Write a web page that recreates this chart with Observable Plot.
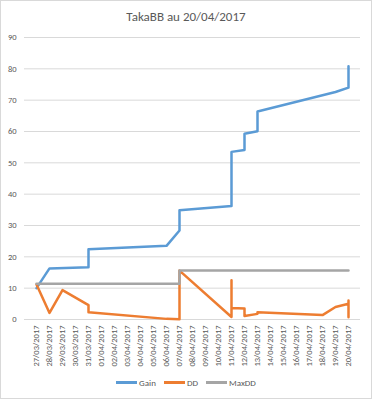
<!DOCTYPE html>
<html>
<head>
<meta charset="utf-8">
<script src="https://cdn.jsdelivr.net/npm/d3@7"></script>
<script src="https://cdn.jsdelivr.net/npm/@observablehq/plot@0.6"></script>
<style>
  html, body { margin: 0; padding: 0; background: #fff; }
  #chart { position: relative; width: 372px; height: 399px; box-sizing: border-box; border: 1px solid #d9d9d9; background: #fff; font-family: "Carlito", "Liberation Sans", sans-serif; color: #595959; overflow: hidden; }
  #title { position: absolute; left: 0; top: 6px; width: 370px; text-align: center; font-size: 13px; line-height: 20px; color: #595959; }
  #plot { position: absolute; left: 0; top: 27px; }
  #legend { position: absolute; left: 0; top: 374px; width: 370px; height: 14px; display: flex; justify-content: center; align-items: center; font-size: 9px; color: #595959; }
  .item { display: flex; align-items: center; margin: 0 4px; }
  .sw { width: 21px; height: 3px; margin-right: 2px; }
</style>
</head>
<body>
<div id="chart">
  <div id="title">TakaBB au 20/04/2017</div>
  <div id="plot"></div>
  <div id="legend"></div>
</div>
<script>
const dates = ["27/03/2017","28/03/2017","29/03/2017","30/03/2017","31/03/2017","01/04/2017","02/04/2017","03/04/2017","04/04/2017","05/04/2017","06/04/2017","07/04/2017","08/04/2017","09/04/2017","10/04/2017","11/04/2017","12/04/2017","13/04/2017","14/04/2017","15/04/2017","16/04/2017","17/04/2017","18/04/2017","19/04/2017","20/04/2017"];
const yTicks = [0,10,20,30,40,50,60,70,80,90];
const seriesNames = ["Gain","DD","MaxDD"];
const seriesColors = ["#5B9BD5","#ED7D31","#A5A5A5"];

const gainDates = ["27/03/2017","28/03/2017","31/03/2017","31/03/2017","06/04/2017","07/04/2017","07/04/2017","11/04/2017","11/04/2017","12/04/2017","12/04/2017","13/04/2017","13/04/2017","19/04/2017","20/04/2017","20/04/2017"];
const gainValues = [10.0,16.3,16.7,22.4,23.5,28.4,34.9,36.2,53.5,54.1,59.3,60.1,66.4,72.6,74.0,80.8];

const ddDates = ["27/03/2017","28/03/2017","29/03/2017","31/03/2017","31/03/2017","06/04/2017","07/04/2017","07/04/2017","11/04/2017","11/04/2017","11/04/2017","12/04/2017","12/04/2017","13/04/2017","13/04/2017","18/04/2017","19/04/2017","20/04/2017","20/04/2017","20/04/2017"];
const ddValues = [11.2,2.1,9.4,4.6,2.3,0.2,0.1,15.6,0.8,12.5,3.7,3.5,1.1,1.8,2.3,1.4,4.0,5.0,6.1,0.7];

const maxDates = ["27/03/2017","07/04/2017","07/04/2017","20/04/2017"];
const maxValues = [11.4,11.4,15.6,15.6];

const mk = (ds, vs) => ds.map((d, i) => ({date: d, value: vs[i]}));
const gain = mk(gainDates, gainValues);
const dd = mk(ddDates, ddValues);
const maxdd = mk(maxDates, maxValues);

const plot = Plot.plot({
  width: 370,
  height: 351,
  marginLeft: 23,
  marginRight: 11,
  marginTop: 9,
  marginBottom: 60,
  style: {fontFamily: "Carlito, 'Liberation Sans', sans-serif", fontSize: "8.5px", color: "#595959", background: "transparent"},
  x: {type: "point", domain: dates, padding: 0.5},
  y: {domain: [0, 90]},
  marks: [
    Plot.gridY(yTicks, {stroke: "#d9d9d9", strokeOpacity: 1, strokeWidth: 1}),
    Plot.axisY({ticks: yTicks, tickSize: 0, tickPadding: 8, label: null, tickFormat: d => String(d)}),
    Plot.axisX({tickRotate: -90, tickSize: 0, tickPadding: 6, label: null}),
    Plot.line(gain, {x: "date", y: "value", stroke: seriesColors[0], strokeWidth: 2.5, strokeLinejoin: "round"}),
    Plot.line(dd, {x: "date", y: "value", stroke: seriesColors[1], strokeWidth: 2.5, strokeLinejoin: "round"}),
    Plot.line(maxdd, {x: "date", y: "value", stroke: seriesColors[2], strokeWidth: 2.5, strokeLinejoin: "round"})
  ]
});
document.getElementById("plot").appendChild(plot);

const legend = document.getElementById("legend");
seriesNames.forEach((n, i) => {
  const it = document.createElement("div");
  it.className = "item";
  const sw = document.createElement("div");
  sw.className = "sw";
  sw.style.background = seriesColors[i];
  const t = document.createElement("span");
  t.textContent = n;
  it.appendChild(sw);
  it.appendChild(t);
  legend.appendChild(it);
});
</script>
</body>
</html>
